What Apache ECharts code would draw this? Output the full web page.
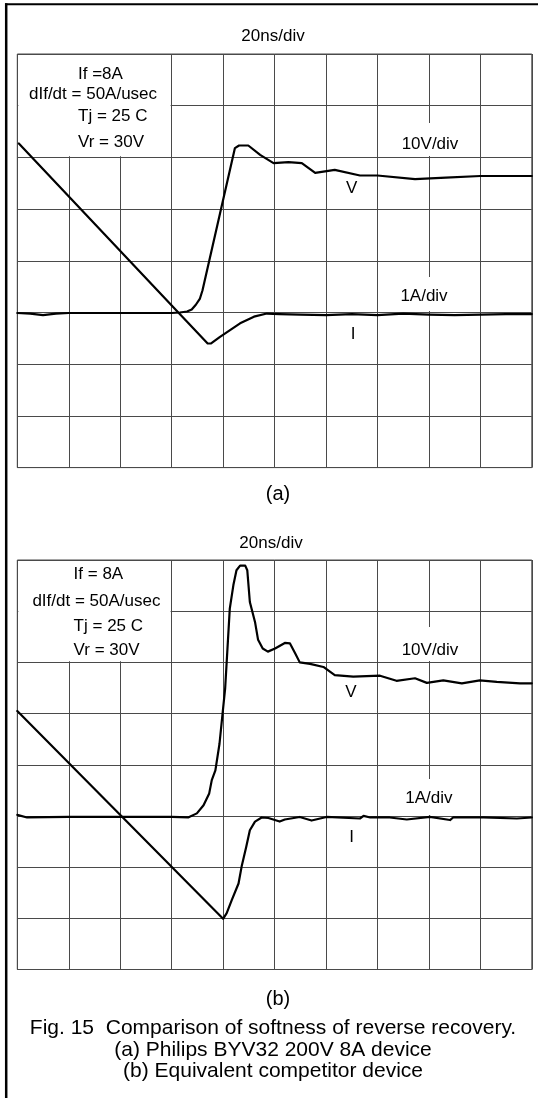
<!DOCTYPE html>
<html>
<head>
<meta charset="utf-8">
<script src="https://cdn.jsdelivr.net/npm/echarts@6.0.0/dist/echarts.min.js"></script>
<style>
  html, body { margin: 0; padding: 0; background: #fff; }
  #chart { width: 538px; height: 1098px; }
</style>
</head>
<body>
<div id="chart"></div>
<script>
// time in divisions (20ns/div), level in divisions from bottom of screen
// (a) Philips BYV32
const voltA_t = [0, 0.25, 0.5, 0.75, 1, 2, 3, 3.16, 3.3, 3.39, 3.47, 3.55, 3.6, 4.23, 4.31, 4.49, 4.72, 4.98, 5.27, 5.53, 5.79, 6.17, 6.66, 7.0, 7.73, 8.33, 9.0, 10.0]
const voltA_v = [2.99, 2.98, 2.95, 2.98, 2.99, 2.99, 2.99, 3.0, 3.02, 3.06, 3.15, 3.27, 3.43, 6.18, 6.23, 6.23, 6.05, 5.89, 5.91, 5.89, 5.70, 5.76, 5.65, 5.65, 5.58, 5.61, 5.64, 5.64]
const currA_t = [0.03, 3.13, 3.70, 3.76, 3.94, 4.33, 4.6, 4.85, 5.1, 5.5, 6.0, 6.5, 7.0, 7.5, 8.0, 8.5, 9.0, 9.5, 10.0]
const currA_v = [6.27, 3.0, 2.40, 2.40, 2.53, 2.79, 2.92, 2.98, 2.97, 2.96, 2.95, 2.97, 2.95, 2.98, 2.96, 2.95, 2.96, 2.97, 2.97]
// (b) competitor
const voltB_t = [0, 0.19, 1, 2, 3, 3.32, 3.49, 3.62, 3.73, 3.78, 3.85, 3.93, 4.0, 4.04, 4.13, 4.20, 4.26, 4.33, 4.43, 4.47, 4.52, 4.62, 4.68, 4.77, 4.87, 5.01, 5.20, 5.30, 5.40, 5.49, 5.69, 5.95, 6.17, 6.53, 7.05, 7.37, 7.73, 7.96, 8.28, 8.64, 8.99, 9.32, 9.77, 10.0]
const voltB_v = [3.02, 2.97, 2.98, 2.98, 2.98, 2.97, 3.05, 3.21, 3.44, 3.70, 3.89, 4.41, 5.1, 5.49, 7.05, 7.51, 7.80, 7.89, 7.89, 7.80, 7.18, 6.79, 6.44, 6.27, 6.21, 6.27, 6.38, 6.37, 6.18, 6.00, 5.97, 5.91, 5.75, 5.72, 5.74, 5.64, 5.69, 5.60, 5.65, 5.59, 5.65, 5.62, 5.59, 5.59]
const currB_t = [0.0, 4.0, 4.07, 4.17, 4.30, 4.36, 4.45, 4.52, 4.62, 4.75, 4.88, 5.1, 5.20, 5.49, 5.72, 6.01, 6.66, 6.73, 6.86, 7.24, 7.57, 8.02, 8.41, 8.47, 9.06, 9.71, 10.0]
const currB_v = [5.05, 0.99, 1.10, 1.36, 1.68, 2.01, 2.40, 2.72, 2.89, 2.97, 2.96, 2.89, 2.93, 2.98, 2.91, 2.98, 2.95, 3.0, 2.97, 2.97, 2.93, 2.98, 2.92, 2.97, 2.97, 2.95, 2.97]

const divX = 10
const divY = 8
const cond = ['If =8A', 'dIf/dt = 50A/usec', 'Tj = 25 C', 'Vr = 30V']
const condB = ['If = 8A', 'dIf/dt = 50A/usec', 'Tj = 25 C', 'Vr = 30V']
const caption = [
  'Fig. 15  Comparison of softness of reverse recovery.',
  '(a) Philips BYV32 200V 8A device',
  '(b) Equivalent competitor device',
]

const zip = (xs, ys) => xs.map((x, i) => [x, ys[i]])

const FONT = '"Liberation Sans", Arial, sans-serif'
const gridColor = '#4a4a4a'

var myChart = echarts.init(document.getElementById('chart'), null, { renderer: 'canvas' })

function axisPair(idx, max) {
  return {
    gridIndex: idx,
    type: 'value',
    min: 0,
    max: max,
    interval: 1,
    axisLabel: { show: false },
    axisTick: { show: false },
    axisLine: { show: false },
    splitLine: { lineStyle: { color: gridColor, width: 1 } },
  }
}

function trace(name, idx, data) {
  return {
    name: name,
    type: 'line',
    xAxisIndex: idx,
    yAxisIndex: idx,
    data: data,
    symbol: 'none',
    smooth: false,
    z: 10,
    lineStyle: { color: '#000', width: 2.2, join: 'round', cap: 'round' },
    silent: true,
  }
}

// white box behind the test conditions
function condBox(idx) {
  return {
    type: 'line',
    xAxisIndex: idx,
    yAxisIndex: idx,
    data: [],
    z: 3,
    silent: true,
    markArea: {
      silent: true,
      itemStyle: { color: '#fff' },
      data: [[{ coord: [0.02, 6.02] }, { coord: [2.98, 7.98] }]],
    },
  }
}

function txt(s, x, y, size, align) {
  return {
    type: 'text',
    z: 6,
    style: {
      text: s,
      x: x,
      y: y,
      font: size + 'px ' + FONT,
      fill: '#000',
      align: align || 'center',
      verticalAlign: 'middle',
    },
  }
}

// gap in the 8th vertical division line behind the scale labels
function gap(y1, y2) {
  return { type: 'rect', z: 5, shape: { x: 425, y: y1, width: 8, height: y2 - y1 }, style: { fill: '#fff' } }
}

var graphics = [
  // outer frame
  { type: 'line', z: 5, shape: { x1: 5, y1: 4.2, x2: 538, y2: 4.2 }, style: { stroke: '#000', lineWidth: 2 } },
  { type: 'line', z: 5, shape: { x1: 6.2, y1: 3.2, x2: 6.2, y2: 1098 }, style: { stroke: '#000', lineWidth: 2.5 } },

  gap(123, 156),
  gap(277, 311),
  gap(627, 661),
  gap(779, 815),

  txt('20ns/div', 273, 36.3, 17),
  txt(cond[0], 78, 74.7, 17, 'left'),
  txt(cond[1], 29, 94.8, 17, 'left'),
  txt(cond[2], 78, 116.5, 17, 'left'),
  txt(cond[3], 78, 142.5, 17, 'left'),
  txt('10V/div', 430, 144, 17),
  txt('V', 351.7, 188.3, 17),
  txt('1A/div', 424, 296.3, 17),
  txt('I', 353, 334.5, 17),
  txt('(a)', 278, 494.6, 20),

  txt('20ns/div', 271, 543.2, 17),
  txt(condB[0], 73.6, 574.4, 17, 'left'),
  txt(condB[1], 32.4, 601, 17, 'left'),
  txt(condB[2], 73.6, 626, 17, 'left'),
  txt(condB[3], 73.6, 650, 17, 'left'),
  txt('10V/div', 430, 650, 17),
  txt('V', 351, 692.3, 17),
  txt('1A/div', 428.8, 798.3, 17),
  txt('I', 351.6, 837.4, 17),
  txt('(b)', 278, 999.6, 20),

  txt(caption[0], 273, 1028, 21),
  txt(caption[1], 273, 1049.8, 21),
  txt(caption[2], 273, 1071.6, 21),
]

var option = {
  animation: false,
  backgroundColor: '#fff',
  grid: [
    { left: 17.3, top: 54, width: 514.5, height: 413.6, show: true, borderColor: gridColor, borderWidth: 1, backgroundColor: '#fff' },
    { left: 17.3, top: 560, width: 514.5, height: 409.5, show: true, borderColor: gridColor, borderWidth: 1, backgroundColor: '#fff' },
  ],
  xAxis: [axisPair(0, divX), axisPair(1, divX)],
  yAxis: [axisPair(0, divY), axisPair(1, divY)],
  series: [
    condBox(0),
    condBox(1),
    trace('V', 0, zip(voltA_t, voltA_v)),
    trace('I', 0, zip(currA_t, currA_v)),
    trace('V', 1, zip(voltB_t, voltB_v)),
    trace('I', 1, zip(currB_t, currB_v)),
  ],
  graphic: graphics,
}

myChart.setOption(option)
window.addEventListener('resize', function () {
  myChart.resize()
})
</script>
</body>
</html>
